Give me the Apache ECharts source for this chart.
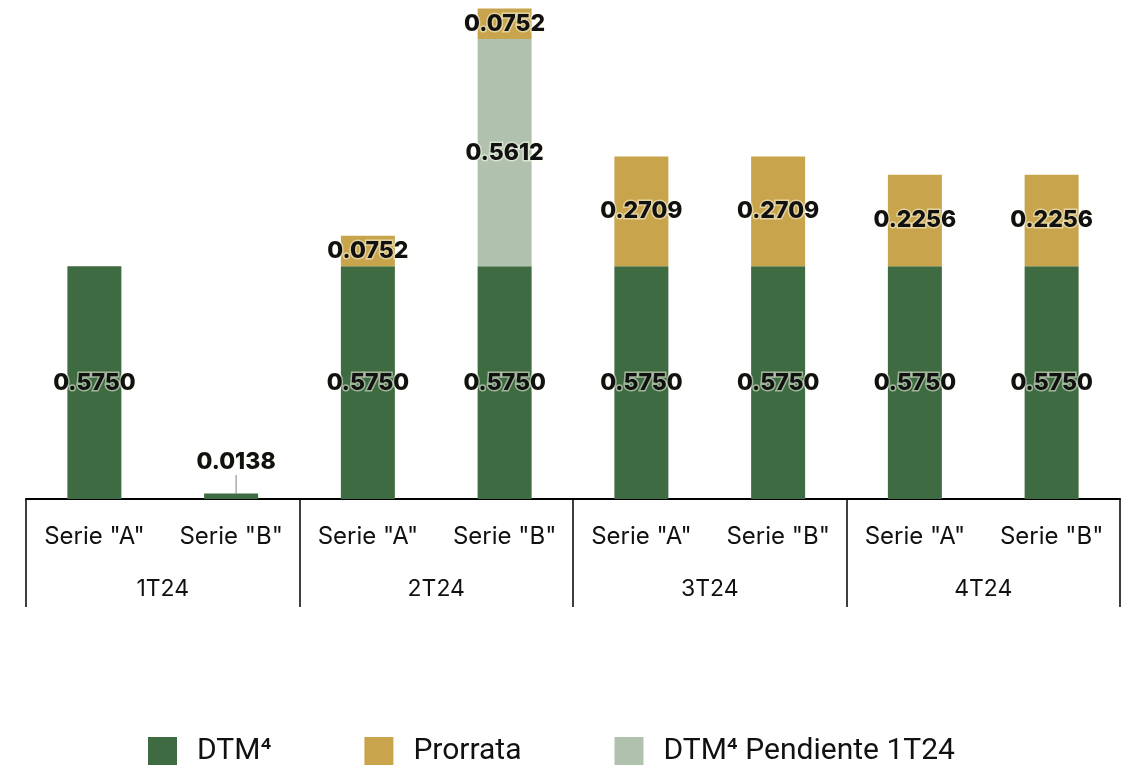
<!DOCTYPE html>
<html>
<head>
<meta charset="utf-8">
<script src="https://cdn.jsdelivr.net/npm/echarts@6/dist/echarts.min.js"></script>
<style>html,body{margin:0;padding:0;background:#fff}#c{width:1125px;height:767px}</style>
</head>
<body>
<div id="c"></div>
<script>
var categories = ['Serie "A"','Serie "B"','Serie "A"','Serie "B"','Serie "A"','Serie "B"','Serie "A"','Serie "B"'];
var groups = ['1T24','2T24','3T24','4T24'];
var dtm = [0.5750, 0.0138, 0.5750, 0.5750, 0.5750, 0.5750, 0.5750, 0.5750];
var pendiente = [null, null, null, 0.5612, null, null, null, null];
var prorrata = [null, null, 0.0752, 0.0752, 0.2709, 0.2709, 0.2256, 0.2256];
var seriesNames = ['DTM⁴', 'Prorrata', 'DTM⁴ Pendiente 1T24'];

var FONT = 'Inter';
var labelStyle = {
  show: true,
  position: 'inside',
  color: '#111',
  fontFamily: FONT,
  fontWeight: 800,
  fontSize: 23,
  textBorderColor: 'rgba(255,255,240,0.5)',
  textBorderWidth: 3,
  formatter: function (p) { return p.value == null ? '' : p.value.toFixed(4); }
};

var chart = echarts.init(document.getElementById('c'));
chart.setOption({
  animation: false,
  grid: { left: 26, right: 5, top: 1, bottom: 268, containLabel: false },
  legend: {
    data: [seriesNames[0], seriesNames[1], seriesNames[2]],
    top: 736,
    left: 148,
    padding: 0,
    itemWidth: 29,
    itemHeight: 28,
    itemGap: 93,
    icon: 'rect',
    textStyle: { fontFamily: 'Roboto', fontSize: 30, color: '#111', padding: [0, 0, 0, 15] }
  },
  xAxis: [
    {
      type: 'category',
      data: categories,
      position: 'bottom',
      axisLine: { show: true, lineStyle: { color: '#000', width: 2 } },
      axisTick: { show: false },
      axisLabel: { interval: 0, margin: 26, fontFamily: FONT, fontSize: 24, color: '#111' }
    },
    {
      type: 'category',
      data: groups,
      position: 'bottom',
      offset: 0,
      axisLine: { show: false },
      axisTick: { show: true, interval: 0, length: 108, lineStyle: { color: '#000', width: 1.5 } },
      axisLabel: { interval: 0, margin: 79, fontFamily: FONT, fontSize: 23, color: '#111' }
    }
  ],
  yAxis: {
    type: 'value',
    min: 0,
    max: 1.23,
    show: false,
    splitLine: { show: false }
  },
  series: [
    {
      name: seriesNames[0],
      type: 'bar',
      stack: 'total',
      barWidth: 54,
      xAxisIndex: 0,
      itemStyle: { color: '#3E6B42' },
      data: dtm.map(function (v, i) {
        if (i === 1) {
          return { value: v, label: { position: 'top', distance: 5 } };
        }
        return v;
      }),
      label: labelStyle,
      labelLayout: function (p) { return p.dataIndex === 1 ? { dy: -15, dx: 5 } : {}; },
      labelLine: { show: true, lineStyle: { color: '#aaa', width: 1.5 } }
    },
    {
      name: seriesNames[2],
      type: 'bar',
      stack: 'total',
      barWidth: 54,
      xAxisIndex: 0,
      itemStyle: { color: '#B0C2AD' },
      data: pendiente,
      label: labelStyle
    },
    {
      name: seriesNames[1],
      type: 'bar',
      stack: 'total',
      barWidth: 54,
      xAxisIndex: 0,
      itemStyle: { color: '#C8A54D' },
      data: prorrata,
      label: labelStyle
    }
  ]
});
</script>
</body>
</html>
